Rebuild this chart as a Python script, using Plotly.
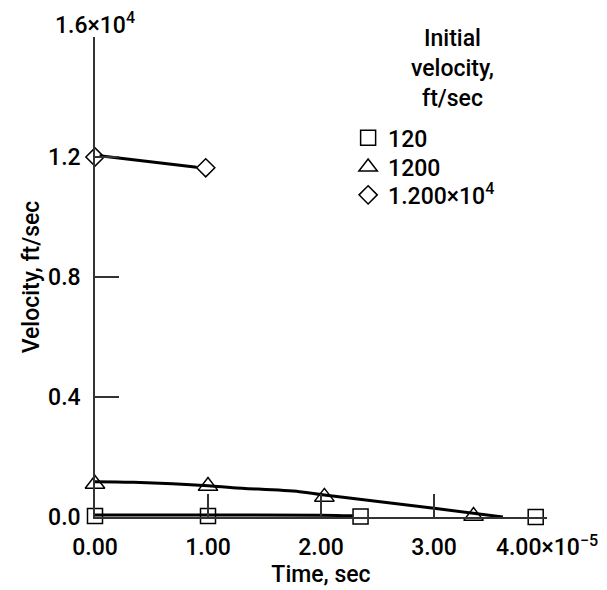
import plotly.graph_objects as go

# Time in units of 1e-5 sec, velocity in ft/sec
sq_t = [0.0, 1.0, 2.35, 3.9]
sq_v = [30, 30, 20, 0]
sq_curve_t = [0.0, 1.0, 2.0, 2.28]
sq_curve_v = [70, 70, 60, 40]

tri_t = [0.0, 1.0, 2.03, 3.35]
tri_v = [1100, 1030, 670, 30]
tri_curve_t = [0.0, 0.34, 1.0, 1.22, 1.81, 2.03, 3.0, 3.61]
tri_curve_v = [1178, 1156, 1043, 977, 845, 733, 290, 0]

dia_t = [0.0, 0.98]
dia_v = [12000, 11640]
dia_curve_t = [0.04, 0.9]
dia_curve_v = [12040, 11660]

x_ticks = [0, 1, 2, 3, 4]
x_labels = ["0.00", "1.00", "2.00", "3.00", "4.00×10<sup>−5</sup>"]
y_ticks = [0, 4000, 8000, 12000, 16000]
y_labels = ["0.0", "0.4", "0.8", "1.2", ""]

series_names = ["120", "1200", "1.200×10<sup>4</sup>"]

FONT = "Roboto, Liberation Sans, Arial, sans-serif"
FS = 23
W = 500
fig = go.Figure()

for ct, cv in [(sq_curve_t, sq_curve_v), (tri_curve_t, tri_curve_v), (dia_curve_t, dia_curve_v)]:
    fig.add_trace(go.Scatter(x=ct, y=cv, mode="lines", line=dict(color="black", width=3, shape="spline"),
                             showlegend=False, hoverinfo="skip"))

legend_ids = ["legend", "legend2", "legend3"]
for (t, v, sym, sz), name, lg in zip([(sq_t, sq_v, "square-open", 15),
                                      (tri_t, tri_v, "triangle-up-open", 17),
                                      (dia_t, dia_v, "diamond-open", 14)],
                                     series_names, legend_ids):
    fig.add_trace(go.Scatter(x=t, y=v, mode="markers", name=name, legend=lg,
                             marker=dict(symbol=sym, size=sz, color="black",
                                         line=dict(color="black", width=1.5)),
                             cliponaxis=False))

fig.add_annotation(x=0, y=16000, xref="x", yref="y", text="1.6×10<sup>4</sup>", showarrow=False,
                   xanchor="center", yanchor="bottom", yshift=-4,
                   font=dict(size=FS, color="black", family=FONT, weight=W))
fig.add_annotation(x=0.79, y=0.935, xref="paper", yref="paper", text="Initial<br>velocity,<br>ft/sec",
                   showarrow=False, xanchor="center", yanchor="middle", align="center",
                   font=dict(size=FS, color="black", family=FONT, weight=W))

leg_common = dict(xanchor="left", yanchor="middle", font=dict(size=FS, family=FONT, weight=W),
                  bgcolor="rgba(0,0,0,0)", itemsizing="trace")
fig.update_layout(
    width=607, height=590,
    margin=dict(l=87, r=68, t=29, b=81, autoexpand=False),
    plot_bgcolor="white", paper_bgcolor="white",
    font=dict(family=FONT, size=FS, color="black", weight=W),
    xaxis=dict(range=[0, 4], tickvals=x_ticks, ticktext=x_labels, ticks="inside", ticklen=23,
               tickwidth=1.5, tickcolor="#333", showline=True, linecolor="#333", linewidth=1.5,
               showgrid=False, zeroline=False, ticklabelstandoff=9, automargin=False,
               tickfont=dict(size=FS, family=FONT, weight=W),
               title=dict(text="Time, sec", standoff=0, font=dict(size=FS, weight=W))),
    yaxis=dict(range=[0, 16000], tickvals=y_ticks, ticktext=y_labels, ticks="inside", ticklen=24,
               tickwidth=1.5, tickcolor="#333", showline=True, linecolor="#333", linewidth=1.5,
               showgrid=False, zeroline=False, ticklabelstandoff=8, automargin=False,
               tickfont=dict(size=FS, family=FONT, weight=W),
               title=dict(text="Velocity, ft/sec", standoff=2, font=dict(size=FS, weight=W))),
    legend=dict(x=0.56, y=0.79, **leg_common),
    legend2=dict(x=0.56, y=0.729, **leg_common),
    legend3=dict(x=0.56, y=0.671, **leg_common),
)

fig.write_html("out.html")
